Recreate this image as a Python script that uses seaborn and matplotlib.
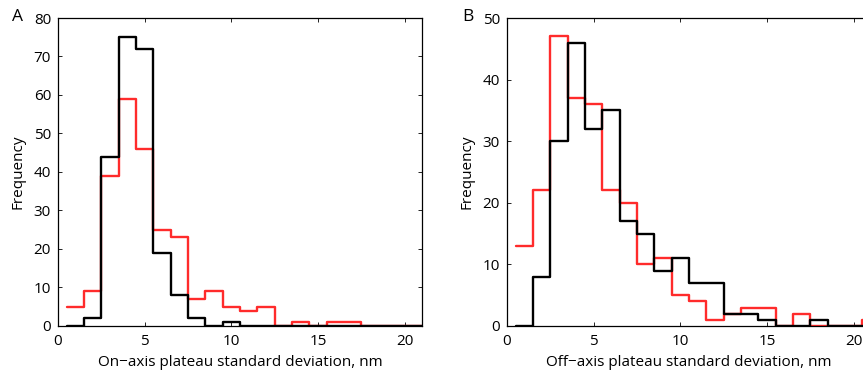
"""Histogramas de desviación estándar de mesetas (on-axis / off-axis)."""
import numpy as np
import pandas as pd
import matplotlib
matplotlib.use("Agg")
import matplotlib.pyplot as plt
import seaborn as sns

# Bordes de los bins (ancho 1 nm, centrados en enteros)
bin_edges = np.arange(0.5, 22.0, 1.0)
bin_centers = bin_edges[:-1] + 0.5

# Panel A: on-axis
on_red = [5, 9, 39, 59, 46, 25, 23, 7, 9, 5, 4, 5, 0, 1, 0, 1, 1, 0, 0, 0, 0]
on_black = [0, 2, 44, 75, 72, 19, 8, 2, 0, 1, 0, 0, 0, 0, 0, 0, 0, 0, 0, 0, 0]

# Panel B: off-axis
off_red = [13, 22, 47, 37, 36, 22, 20, 10, 11, 5, 4, 1, 2, 3, 3, 0, 2, 0, 0, 0, 1]
off_black = [0, 8, 30, 46, 32, 35, 17, 15, 9, 11, 7, 7, 2, 2, 1, 0, 0, 1, 0, 0, 0]

x_ticks = [0, 5, 10, 15, 20]
panel_a_yticks = list(range(0, 81, 10))
panel_b_yticks = list(range(0, 51, 10))

sns.set_style("ticks")
plt.rcParams['font.family'] = ['Open Sans', 'DejaVu Sans']
plt.rcParams['xtick.direction'] = 'in'
plt.rcParams['ytick.direction'] = 'in'
for key in ['text.color', 'axes.labelcolor', 'xtick.color', 'ytick.color', 'axes.edgecolor']:
    plt.rcParams[key] = 'black'

RED = '#ff2b2b'
BLACK = '#000000'
FS = 11


def draw_counts(ax, counts, color):
    n = len(counts)
    df = pd.DataFrame({'x': bin_centers[:n], 'w': np.asarray(counts, dtype=float)})
    sns.histplot(data=df, x='x', weights='w', bins=list(bin_edges[:n + 1]),
                 element='step', fill=False, color=color, linewidth=1.7, ax=ax)


def draw_panel(ax, red, black, yticks, xlabel):
    draw_counts(ax, red, RED)
    draw_counts(ax, black, BLACK)
    ax.set_xlim(0, 21)
    ax.set_ylim(yticks[0], yticks[-1])
    ax.set_xticks(x_ticks)
    ax.set_yticks(yticks)
    ax.tick_params(top=True, right=True, length=3, width=0.6, labelsize=FS)
    ax.tick_params(axis='x', pad=6)
    ax.tick_params(axis='y', pad=5)
    for s in ax.spines.values():
        s.set_visible(True)
        s.set_linewidth(0.9)
    ax.set_xlabel(xlabel, fontsize=FS, labelpad=4)
    ax.set_ylabel('Frequency', fontsize=FS, labelpad=6)


fig = plt.figure(figsize=(8.63, 3.75), dpi=100)
ax_a = fig.add_axes([0.0672, 0.1307, 0.4218, 0.8213])
ax_b = fig.add_axes([0.5875, 0.1307, 0.4218, 0.8213])

draw_panel(ax_a, on_red, on_black, panel_a_yticks,
           'On\u2212axis plateau standard deviation, nm')
draw_panel(ax_b, off_red, off_black, panel_b_yticks,
           'Off\u2212axis plateau standard deviation, nm')

fig.text(12 / 863, 1 - 17 / 375, 'A', fontsize=12.5, ha='left', va='center')
fig.text(462 / 863, 1 - 17 / 375, 'B', fontsize=12.5, ha='left', va='center')

fig.savefig('out.png', dpi=100)
plt.close(fig)
